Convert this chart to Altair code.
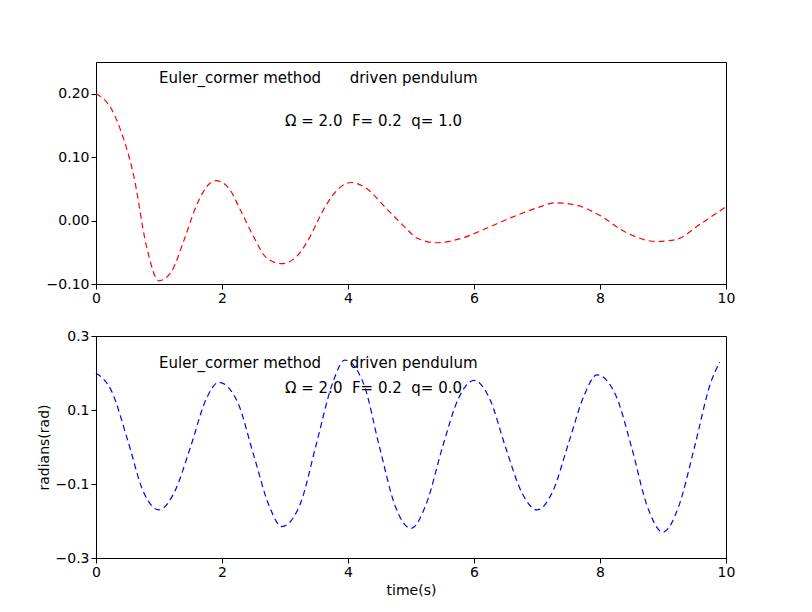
import altair as alt
import pandas as pd

t_top = [0, 0.25, 0.4, 0.6, 0.8, 1.0, 1.2, 1.4, 1.6, 1.8, 1.9, 2.1, 2.3, 2.5, 2.7, 2.95,
         3.2, 3.4, 3.6, 3.8, 4.05, 4.3, 4.6, 4.9, 5.1, 5.4, 5.8, 6.2, 6.6, 7.0, 7.3,
         7.6, 8.0, 8.4, 8.9, 9.2, 9.6, 10.0]
y_top = [0.200, 0.175, 0.14, 0.07, -0.04, -0.095, -0.08, -0.03, 0.025, 0.058, 0.063,
         0.052, 0.015, -0.025, -0.058, -0.068, -0.055, -0.025, 0.015, 0.045, 0.06,
         0.05, 0.02, -0.01, -0.028, -0.035, -0.028, -0.012, 0.005, 0.02, 0.028,
         0.025, 0.008, -0.018, -0.033, -0.03, -0.005, 0.022]

t_bot = [0, 0.25, 0.5, 0.75, 1.0, 1.25, 1.5, 1.75, 1.95, 2.25, 2.5, 2.75, 2.95, 3.25,
         3.5, 3.75, 3.95, 4.25, 4.5, 4.75, 5.0, 5.25, 5.5, 5.75, 6.0, 6.25, 6.5, 6.75,
         7.0, 7.25, 7.5, 7.75, 7.95, 8.25, 8.5, 8.75, 9.0, 9.25, 9.5, 9.75, 9.9]
y_bot = [0.20, 0.15, 0.02, -0.12, -0.17, -0.12, 0.0, 0.13, 0.175, 0.12, -0.02, -0.16,
         -0.215, -0.15, 0.01, 0.17, 0.235, 0.17, 0.0, -0.16, -0.22, -0.15, 0.0, 0.13,
         0.18, 0.13, 0.0, -0.12, -0.17, -0.12, 0.01, 0.14, 0.195, 0.14, 0.0, -0.16,
         -0.23, -0.16, 0.0, 0.17, 0.23]

x_ticks = [0, 2, 4, 6, 8, 10]
y_ticks_top = [-0.10, -0.05, 0.0, 0.05, 0.10, 0.15, 0.20, 0.25]
y_ticks_bot = [-0.3, -0.2, -0.1, 0.0, 0.1, 0.2, 0.3]

NB = "\u00a0"
title_text = "Euler_cormer method" + NB * 6 + "driven pendulum"
params_top = "Ω = 2.0" + NB * 2 + "F= 0.2" + NB * 2 + "q= 1.0"
params_bot = "Ω = 2.0" + NB * 2 + "F= 0.2" + NB * 2 + "q= 0.0"

FONT = "DejaVu Sans"


def panel(t, y, color, ymin, ymax, yvals, fmt, params, y_title, x_title, y_lab1, y_lab2):
    df = pd.DataFrame({"t": t, "y": y})
    common = dict(grid=False, labelFontSize=14, titleFontSize=14, titleFontWeight="normal",
                  tickColor="black", domainColor="black", labelColor="black",
                  labelFont=FONT, titleFont=FONT, labelOverlap=False, labelFlush=False)
    x = alt.X("t:Q", scale=alt.Scale(domain=[0, 10], nice=False),
              axis=alt.Axis(values=x_ticks, format="d", title=x_title, **common))
    yenc = alt.Y("y:Q", scale=alt.Scale(domain=[ymin, ymax], nice=False),
                 axis=alt.Axis(values=yvals, format=fmt, title=y_title, **common))
    line = alt.Chart(df).mark_line(color=color, strokeDash=[6, 4], strokeWidth=1.2,
                                   interpolate="monotone").encode(x=x, y=yenc)
    tdf = pd.DataFrame({"t": [1.0, 3.0], "y": [y_lab1, y_lab2], "s": [title_text, params]})
    text = alt.Chart(tdf).mark_text(align="left", baseline="middle", fontSize=15,
                                    font=FONT, color="black").encode(
        x="t:Q", y="y:Q", text="s:N")
    return (line + text).properties(width=630, height=222)


top = panel(t_top, y_top, "red", -0.10, 0.25, y_ticks_top, ".2f", params_top, "", "", 0.224, 0.157)
bot = panel(t_bot, y_bot, "blue", -0.3, 0.3, y_ticks_bot, ".1f", params_bot, "radians(rad)", "time(s)", 0.227, 0.16)

chart = alt.vconcat(top, bot, spacing=22).configure_view(
    stroke="black", strokeWidth=1
).properties(background="white", padding={"left": 28, "top": 53, "right": 10, "bottom": 5})

chart.save("out.html", embed_options={"renderer": "svg", "actions": False})
